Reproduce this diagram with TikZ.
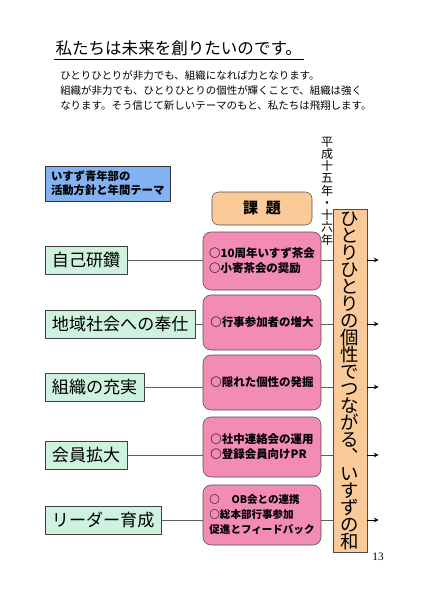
\documentclass[tikz,border=0pt]{standalone}
\usepackage{fontspec}
\setmainfont{Noto Sans CJK JP}
\newfontfamily\numfont{Liberation Serif}
\usetikzlibrary{arrows,positioning}

\definecolor{themeblue}{RGB}{130,178,242}
\definecolor{goalgreen}{RGB}{206,242,222}
\definecolor{taskpink}{RGB}{243,140,180}
\definecolor{kadaiorange}{RGB}{250,202,152}
\definecolor{linegray}{RGB}{95,95,95}

\begin{document}
\begin{tikzpicture}[
  x=0.75pt, y=-0.75pt,
  theme/.style={rectangle, draw=black!80, fill=themeblue, minimum width=93.75pt, minimum height=26.25pt, inner xsep=4.5pt, text width=84.75pt, align=left, font=\bfseries\fontsize{8.5}{10.5}\selectfont},
  goal/.style={rectangle, draw=black!75, fill=goalgreen, minimum height=21pt, inner xsep=5pt, anchor=west, font=\fontsize{12.8}{14}\selectfont},
  task/.style={rectangle, draw=black!70, fill=taskpink, rounded corners=6pt, minimum width=88.5pt, align=left, font=\bfseries\fontsize{8.6}{11.25}\selectfont},
  kadai/.style={rectangle, draw=black!70, fill=kadaiorange, rounded corners=5pt, minimum width=75pt, minimum height=24.75pt, font=\bfseries\fontsize{11.3}{13}\selectfont},
  wa/.style={rectangle, draw=black!70, fill=kadaiorange, minimum width=25.5pt, minimum height=257.25pt, inner sep=0pt, align=center, font=\fontsize{13.8}{12.75}\selectfont},
  link/.style={draw=linegray, line width=0.6pt},
  arrow/.style={->, >=stealth, draw=black, line width=0.6pt}
]
  \useasboundingbox (0,0) rectangle (441,600);

  % title and lead text
  \node[anchor=west, inner sep=1pt, font=\fontsize{12.4}{14}\selectfont] (title) at (54,48) {私たちは未来を創りたいのです。};
  \draw[line width=0.8pt] ([yshift=-1.5pt]title.south west) -- ([yshift=-1.5pt]title.south east);
  \node[anchor=west, inner sep=0pt, align=left, font=\fontsize{7.85}{11.25}\selectfont] (lead) at (60,91)
    {ひとりひとりが非力でも、組織になれば力となります。\\
     組織が非力でも、ひとりひとりの個性が輝くことで、組織は強く\\
     なります。そう信じて新しいテーマのもと、私たちは飛翔します。};

  \node[theme] (theme) at (107.5,183.5) {いすず青年部の\\活動方針と年間テーマ};
  \node[kadai] (kadai) at (262,208.5) {課\hspace{0.5em}題};

  % years, vertical
  \node[inner sep=0pt, align=center, font=\fontsize{9}{9.2}\selectfont] (years) at (327,191)
    {平\\成\\十\\五\\年\\・\\十\\六\\年};

  % goals on the left
  \node[goal] (g1) at (45,260) {自己研鑽};
  \node[goal] (g2) at (45,324) {地域社会への奉仕};
  \node[goal] (g3) at (45,387) {組織の充実};
  \node[goal] (g4) at (45,455) {会員拡大};
  \node[goal] (g5) at (45,520) {リーダー育成};

  % tasks
  \node[task, minimum height=43.5pt] (t1) at (262,261) {○10周年いすず茶会\\○小寄茶会の奨励};
  \node[task, minimum height=41.25pt] (t2) at (262,322.5) {○行事参加者の増大};
  \node[task, minimum height=41.25pt] (t3) at (262,382.5) {○隠れた個性の発掘};
  \node[task, minimum height=45pt] (t4) at (262,447) {○社中連絡会の運用\\○登録会員向けPR};
  \node[task, minimum height=45pt, font=\bfseries\fontsize{7.9}{11.25}\selectfont] (t5) at (262,515)
    {○\hspace{1.1em}OB会との連携\\○総本部行事参加\\促進とフィードバック};

  % yearly theme
  \node[wa] (wa) at (350,380.5)
    {ひ\\と\\り\\ひ\\と\\り\\の\\個\\性\\で\\つ\\な\\が\\る\\︑\\い\\す\\ず\\の\\和};

  \foreach \i in {1,...,5} {
    \draw[link] (g\i.east) -- (g\i.east -| t\i.west);
    \draw[link] (g\i.east -| t\i.east) -- (g\i.east -| wa.west);
    \coordinate (out\i) at ([xshift=8.5pt]g\i.east -| wa.east);
    \draw[arrow] (g\i.east -| wa.east) -- (out\i);
  }

  \node[font=\numfont\fontsize{8.5}{10}\selectfont] (page) at (378,557) {13};
\end{tikzpicture}
\end{document}
